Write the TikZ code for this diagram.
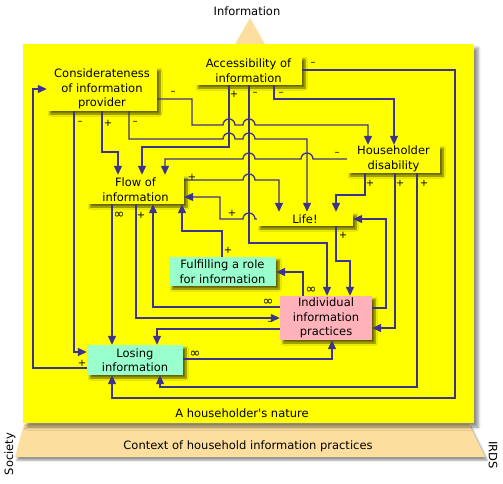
\documentclass[tikz,border=0pt]{standalone}
\usepackage{fontspec}
\setmainfont{DejaVu Sans}
\usetikzlibrary{arrows.meta,shadows.blur}

\definecolor{linkblue}{RGB}{60,52,140}
\definecolor{boxyellow}{RGB}{255,255,0}
\definecolor{mint}{RGB}{153,255,204}
\definecolor{rose}{RGB}{255,178,186}
\definecolor{sand}{RGB}{252,223,158}

\begin{document}
\begin{tikzpicture}[x=1pt, y=-1pt,
    font=\fontsize{11.5}{14.5}\selectfont,
    factor/.style={rectangle, fill=boxyellow, inner sep=0pt, align=center,
      blur shadow={shadow xshift=3pt, shadow yshift=-3pt, shadow blur radius=2pt, shadow blur steps=6, shadow opacity=60}},
    link/.style={draw=linkblue, line width=1.3pt, -{Triangle[length=9pt,width=8pt]}},
    sign/.style={inner sep=0pt, font=\fontsize{10}{10}\selectfont}]
    \useasboundingbox (0,0) rectangle (503,483);

    % context and information
    \fill[sand] (250,18) -- (274,60) -- (226,60) -- cycle;
    \fill[sand, blur shadow={shadow xshift=2pt, shadow yshift=-3pt, shadow blur radius=2pt, shadow opacity=45}] (24,424) -- (469,424) -- (485,457) -- (15,457) -- cycle;
    \fill[boxyellow, blur shadow={shadow xshift=4pt, shadow yshift=-4pt, shadow blur radius=3pt, shadow opacity=45}] (23,44) rectangle (474,423);
    \node (info) at (247,11) {Information};
    \node (nature) at (242,413) {A householder\textquotesingle s nature};
    \node (context) at (248,446) {Context of household information practices};
    \node[rotate=90] (society) at (10,454) {Society};
    \node[rotate=-90] (irds) at (493,455) {IRDS};

    % factors
    \node[factor, minimum width=110pt, minimum height=44pt] (consid) at (102,89) {Considerateness\\of information\\provider};
    \node[factor, minimum width=107pt, minimum height=29pt] (access) at (248.5,70.5) {Accessibility of\\information};
    \node[factor, minimum width=93pt, minimum height=28pt] (house) at (393.5,159) {Householder\\disability};
    \node[factor, minimum width=97pt, minimum height=29pt] (flow) at (135.5,189.5) {Flow of\\information};
    \node[factor, minimum width=96pt, minimum height=14pt] (life) at (305,219) {Life!};
    \node[factor, fill=mint, minimum width=107pt, minimum height=29pt] (fulfil) at (222.5,271.5) {Fulfilling a role\\for information};
    \node[factor, fill=rose, minimum width=92pt, minimum height=44pt] (indiv) at (326,318) {Individual\\information\\practices};
    \node[factor, fill=mint, minimum width=96pt, minimum height=30pt] (losing) at (135,360) {Losing\\information};

    % links from considerateness
    \draw[link] (consid.east |- 0,99) -- (192,99) -- (192,125) -- (223,125) arc (180:0:6pt) -- (243,125) arc (180:0:6pt) -- (368,125) -- (house.north -| 368,0);
    \draw[link] (consid.south -| 129,0) -- (129,139) -- (223,139) arc (180:0:6pt) -- (243,139) arc (180:0:6pt) -- (307,139) -- (life.north -| 307,0);
    \draw[link] (consid.south -| 102,0) -- (102,152) -- (118,152) -- (flow.north -| 118,0);
    \draw[link] (consid.south -| 74,0) -- (74,352) -- (losing.west |- 0,352);

    % links from accessibility
    \draw[link] (access.south -| 229,0) -- (229,147) -- (142,147) -- (flow.north -| 142,0);
    \draw[link] (access.south -| 249,0) -- (249,243) -- (327,243) -- (indiv.north -| 327,0);
    \draw[link] (access.south -| 274,0) -- (274,99) -- (394,99) -- (house.north -| 394,0);
    \draw[link] (access.east |- 0,70) -- (455,70) -- (455,398) -- (112,398) -- (losing.south -| 112,0);

    % links from householder disability
    \draw[link] (house.west) -- (313,159) arc (0:180:6pt) -- (255,159) arc (0:180:6pt) -- (165,159) -- (flow.north -| 165,0);
    \draw[link] (house.south -| 365,0) -- (365,195) -- (336,195) -- (life.north -| 336,0);
    \draw[link] (house.south -| 395,0) -- (395,328) -- (indiv.east |- 0,328);
    \draw[link] (house.south -| 417,0) -- (417,387) -- (160,387) -- (losing.south -| 160,0);

    % links from flow and life
    \draw[link] (flow.east |- 0,180) -- (243,180) arc (180:0:6pt) -- (279,180) -- (life.north -| 279,0);
    \draw[link] (flow.south -| 112,0) -- (losing.north -| 112,0);
    \draw[link] (flow.south -| 136,0) -- (136,318) -- (indiv.west |- 0,318);
    \draw[link] (life.west) -- (255,219) arc (0:180:6pt) -- (220,219) -- (220,197) -- (flow.east |- 0,197);
    \draw[link] (life.south -| 336,0) -- (336,261) -- (350,261) -- (indiv.north -| 350,0);

    % links from the lower factors
    \draw[link] (fulfil.north -| 222,0) -- (222,231) -- (182,231) -- (flow.south -| 182,0);
    \draw[link] (indiv.west |- 0,307) -- (153,307) -- (flow.south -| 153,0);
    \draw[link] (indiv.north -| 303,0) -- (303,272) -- (fulfil.east |- 0,272);
    \draw[link] (indiv.east |- 0,308) -- (386,308) -- (386,219) -- (life.east);
    \draw[link] (indiv.west |- 0,329) -- (157,329) -- (losing.north -| 157,0);
    \draw[link] (losing.east |- 0,359) -- (332,359) -- (indiv.south -| 332,0);
    \draw[link] (losing.west |- 0,368) -- (33,368) -- (33,89) -- (consid.west);

    % signs
    \node[sign] (cmin1) at (173,93) {–};
    \node[sign] (cmin2) at (80,123) {–};
    \node[sign] (cplus) at (108,123) {+};
    \node[sign] (cmin3) at (135,123) {–};
    \node[sign] (aplus) at (234,94) {+};
    \node[sign] (amin1) at (255,94) {–};
    \node[sign] (amin2) at (281,94) {–};
    \node[sign] (amin3) at (313,64) {–};
    \node[sign] (hmin) at (337,154) {–};
    \node[sign] (hplus1) at (370,183) {+};
    \node[sign] (hplus2) at (400,183) {+};
    \node[sign] (hplus3) at (424,183) {+};
    \node[sign] (fplus1) at (192,177) {+};
    \node[sign, font=\fontsize{13}{13}\selectfont] (finf) at (119,215) {∞};
    \node[sign] (fplus2) at (141,215) {+};
    \node[sign] (lplus1) at (232,213) {+};
    \node[sign] (lplus2) at (343,235) {+};
    \node[sign] (rplus) at (228,250) {+};
    \node[sign, font=\fontsize{13}{13}\selectfont] (iinf1) at (311,290) {∞};
    \node[sign, font=\fontsize{13}{13}\selectfont] (iinf2) at (268,302) {∞};
    \node[sign] (imin) at (270,323) {–};
    \node[sign] (oplus) at (82,363) {+};
    \node[sign, font=\fontsize{13}{13}\selectfont] (oinf) at (195,354) {∞};
\end{tikzpicture}
\end{document}
